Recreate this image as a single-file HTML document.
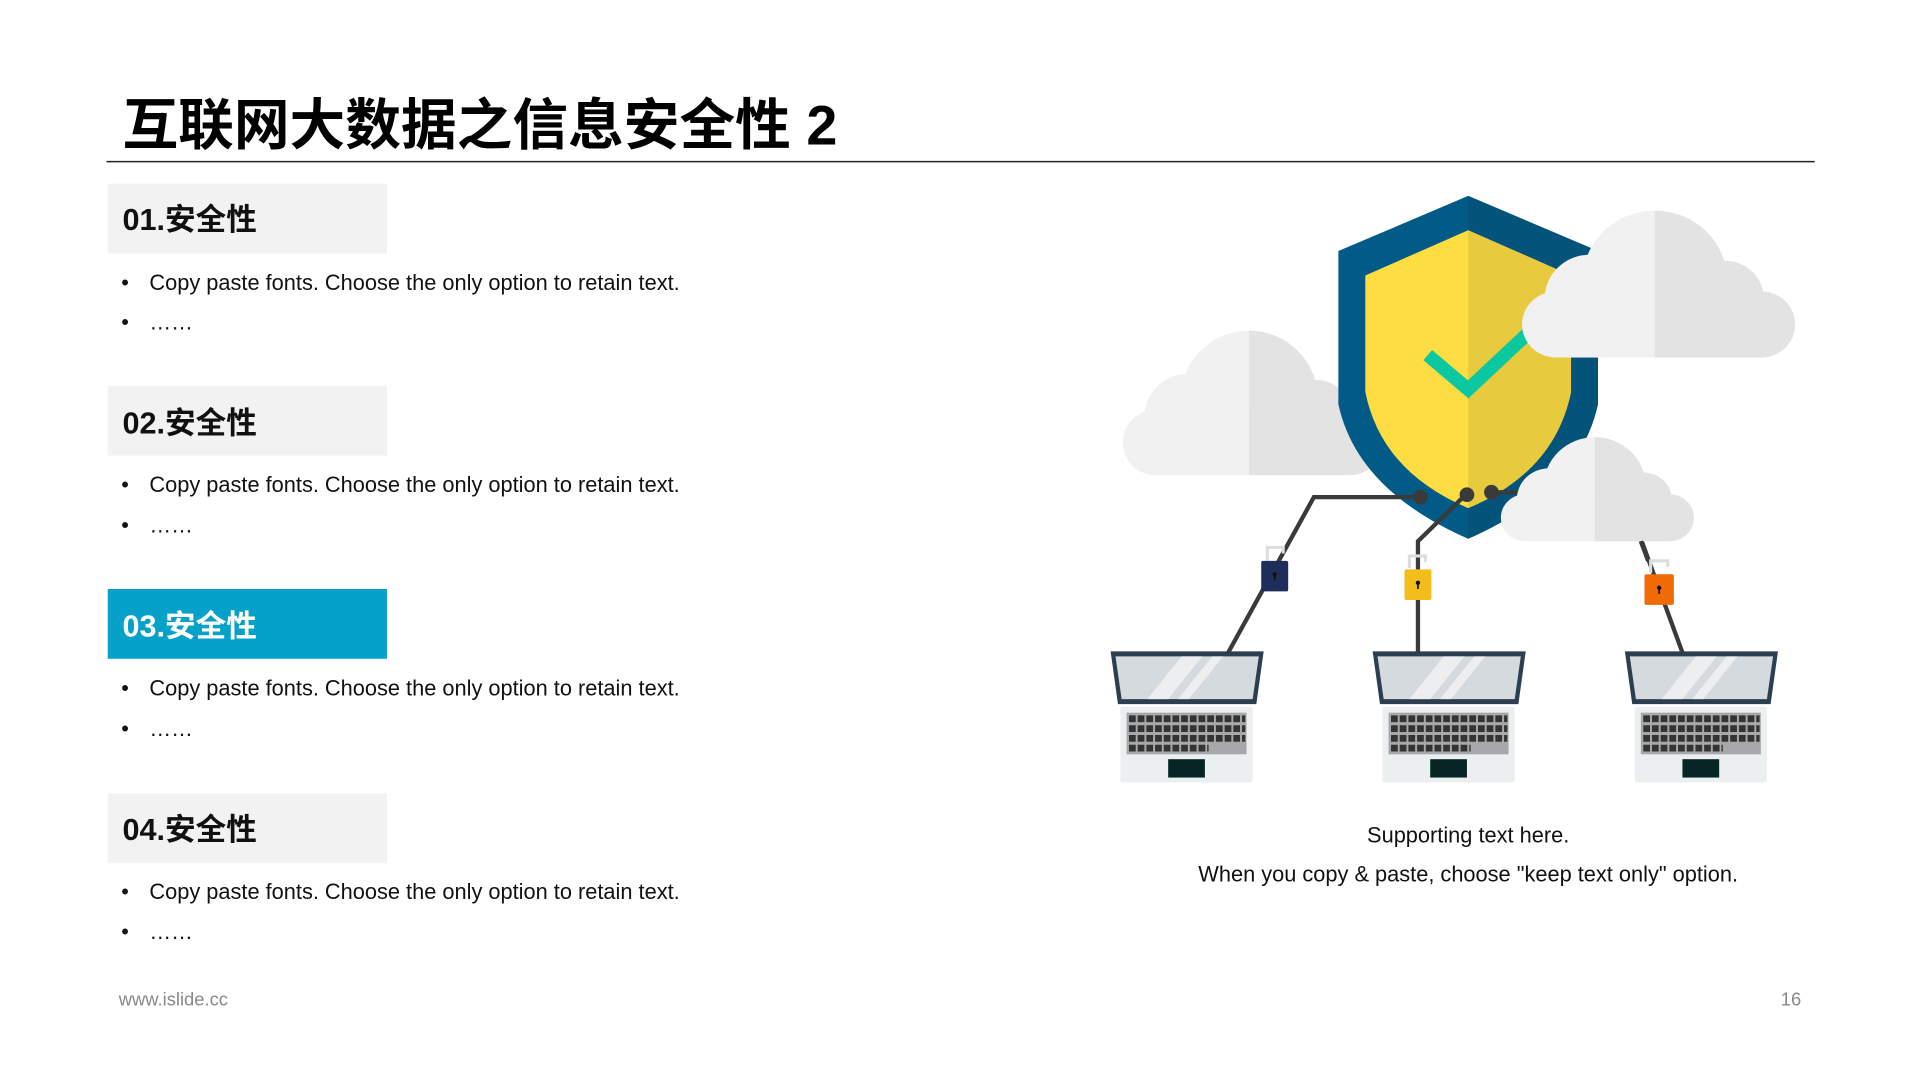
<!DOCTYPE html>
<html><head><meta charset="utf-8"><style>
html,body{margin:0;padding:0;background:#fff;}
svg{display:block}
text{font-family:"Liberation Sans","Noto Sans CJK SC",sans-serif;}
</style></head><body>
<svg width="1920" height="1080" viewBox="0 0 1568 882" xmlns="http://www.w3.org/2000/svg">
<defs>
<g id="cloud">
 <circle cx="28" cy="93" r="27"/><circle cx="192" cy="93" r="27"/>
 <rect x="28" y="66" width="164" height="54"/>
 <circle cx="107" cy="58" r="58"/><circle cx="55" cy="72" r="36"/><circle cx="163" cy="72" r="31"/>
</g>
<clipPath id="rh"><rect x="107" y="-10" width="200" height="200"/></clipPath>
<clipPath id="sr"><rect x="1199" y="100" width="200" height="400"/></clipPath>
<g id="laptop">
 <path d="M0,0 H125 L119,43 H6 Z" fill="#2c3e50"/>
 <path d="M4,4 H121 L116,39 H9 Z" fill="#d5dadf"/>
 <path d="M30,39 L58,4 H75 L47,39 Z" fill="#eceeef"/>
 <path d="M55,39 L83,4 H92 L64,39 Z" fill="#eceeef"/>
 <rect x="8" y="45" width="108" height="62" rx="2" fill="#ebeff0"/>
 <rect x="13" y="50" width="98" height="34" fill="#a6a8aa"/>
 <g stroke="#333" stroke-width="5.5" stroke-dasharray="5.5 1.6">
  <line x1="15" y1="55" x2="110" y2="55"/><line x1="15" y1="63" x2="110" y2="63"/>
  <line x1="15" y1="71" x2="110" y2="71"/><line x1="15" y1="79" x2="80" y2="79"/>
 </g>
 <rect x="47" y="88" width="30" height="15" fill="#062524"/>
</g>
</defs>

<text x="100" y="118" font-size="45.5" font-weight="bold" fill="#000">互联网大数据之信息安全性 2</text>
<line x1="87" y1="132" x2="1482" y2="132" stroke="#222" stroke-width="1.2"/>

<g font-size="25" font-weight="bold">
<rect x="88" y="150" width="228" height="57" fill="#f2f2f2"/><text x="100" y="188" fill="#111">01.安全性</text>
<rect x="88" y="315" width="228" height="57" fill="#f2f2f2"/><text x="100" y="354" fill="#111">02.安全性</text>
<rect x="88" y="481" width="228" height="57" fill="#06a1c9"/><text x="100" y="520" fill="#fff">03.安全性</text>
<rect x="88" y="648" width="228" height="57" fill="#f2f2f2"/><text x="100" y="686" fill="#111">04.安全性</text>
</g>
<g font-size="17.8" fill="#111">
<text x="99" y="237">•</text><text x="122" y="237">Copy paste fonts. Choose the only option to retain text.</text>
<text x="99" y="269">•</text><text x="122" y="269">……</text>
<text x="99" y="402">•</text><text x="122" y="402">Copy paste fonts. Choose the only option to retain text.</text>
<text x="99" y="435">•</text><text x="122" y="435">……</text>
<text x="99" y="568">•</text><text x="122" y="568">Copy paste fonts. Choose the only option to retain text.</text>
<text x="99" y="601">•</text><text x="122" y="601">……</text>
<text x="99" y="734">•</text><text x="122" y="734">Copy paste fonts. Choose the only option to retain text.</text>
<text x="99" y="767">•</text><text x="122" y="767">……</text>
</g>
<text x="97" y="821" font-size="15" fill="#888">www.islide.cc</text>
<text x="1471" y="821" font-size="15" fill="#888" text-anchor="end">16</text>
<g font-size="17.8" fill="#111" text-anchor="middle">
<text x="1199" y="688">Supporting text here.</text>
<text x="1199" y="720">When you copy &amp; paste, choose "keep text only" option.</text>
</g>

<g transform="translate(916,270) scale(0.973,0.983)">
 <use href="#cloud" fill="#f1f1f1"/><use href="#cloud" fill="#e3e3e3" clip-path="url(#rh)"/>
</g>
<path d="M1199,160 L1305,205 L1305,330 Q1290,400 1199,440 Q1108,400 1093,330 L1093,205 Z" fill="#025a87"/>
<path d="M1199,160 L1305,205 L1305,330 Q1290,400 1199,440 Q1108,400 1093,330 L1093,205 Z" fill="#04537a" clip-path="url(#sr)"/>
<path d="M1199,188 L1283,225 L1283,320 Q1270,385 1199,415 Q1128,385 1115,320 L1115,225 Z" fill="#fedd43"/>
<path d="M1199,188 L1283,225 L1283,320 Q1270,385 1199,415 Q1128,385 1115,320 L1115,225 Z" fill="#e7ca3e" clip-path="url(#sr)"/>
<path d="M1166,290 L1199,318 L1248,272" fill="none" stroke="#0cc8a0" stroke-width="11"/>
<g transform="translate(1242,172) scale(1.023,1.0)">
 <use href="#cloud" fill="#f1f1f1"/><use href="#cloud" fill="#e3e3e3" clip-path="url(#rh)"/>
</g>
<g fill="none" stroke="#3a3a3a" stroke-width="3.5">
 <path d="M1160,406 H1073 L1003,533"/>
 <path d="M1198,403 L1158,442 V533"/>
 <path d="M1218,402 H1240"/>
 <path d="M1340,440 L1374,533"/>
</g>
<circle cx="1160" cy="406" r="6" fill="#3a3a3a"/>
<circle cx="1198" cy="404" r="6" fill="#3a3a3a"/>
<circle cx="1218" cy="402" r="6" fill="#3a3a3a"/>
<g transform="translate(1225,357) scale(0.723,0.708)">
 <use href="#cloud" fill="#f1f1f1"/><use href="#cloud" fill="#e3e3e3" clip-path="url(#rh)"/>
</g>
<line x1="1340" y1="442" x2="1346" y2="458" stroke="#3a3a3a" stroke-width="3.5"/>
<g fill="none" stroke="#ddd" stroke-width="2.5">
 <path d="M1035,458 V447 H1048 V452"/><path d="M1151,464 V454 H1164 V459"/><path d="M1348,468 V458 H1362 V463"/>
</g>
<rect x="1030" y="458" width="22" height="25" rx="1.5" fill="#1f2d5c"/>
<rect x="1147" y="465" width="22" height="25" rx="1.5" fill="#f3bd1c"/>
<rect x="1343" y="469" width="24" height="25" rx="1.5" fill="#f06a05"/>
<g fill="#111"><circle cx="1041" cy="469" r="1.8"/><rect x="1040.3" y="469" width="1.4" height="5"/>
<circle cx="1158" cy="476" r="1.8"/><rect x="1157.3" y="476" width="1.4" height="5"/>
<circle cx="1355" cy="480" r="1.8"/><rect x="1354.3" y="480" width="1.4" height="5"/></g>
<use href="#laptop" transform="translate(907,532)"/>
<use href="#laptop" transform="translate(1121,532)"/>
<use href="#laptop" transform="translate(1327,532)"/>
</svg>
</body></html>
